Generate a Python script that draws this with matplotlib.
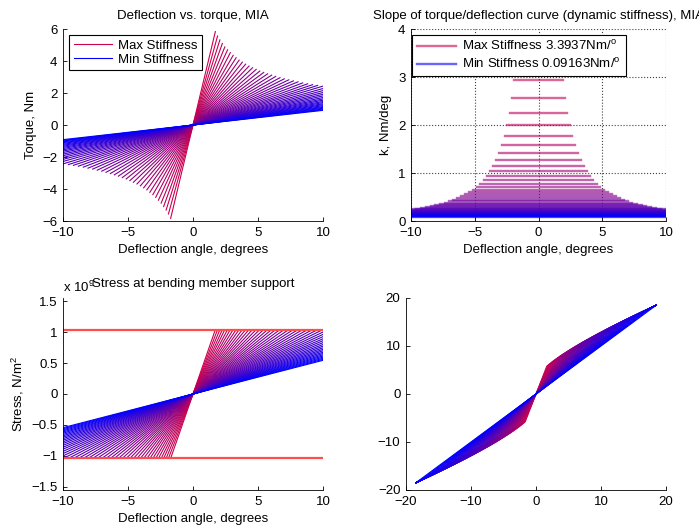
import numpy as np
import matplotlib
matplotlib.use('Agg')
import matplotlib.pyplot as plt

plt.rcParams['font.family'] = 'Liberation Sans'
plt.rcParams['mathtext.default'] = 'regular'
plt.rcParams['font.size'] = 9.5
plt.rcParams['axes.titlesize'] = 9.5

# ------------------
# DATA
# ------------------
# stiffness of each curve, Nm/deg, from max to min
stiffness = [3.394, 2.943, 2.569, 2.256, 1.992, 1.767, 1.575, 1.409, 1.267, 1.142,
             1.034, 0.939, 0.855, 0.781, 0.715, 0.656, 0.604, 0.557, 0.515, 0.477,
             0.442, 0.411, 0.383, 0.357, 0.334, 0.312, 0.292, 0.274, 0.258, 0.243,
             0.228, 0.215, 0.203, 0.192, 0.182, 0.172, 0.163, 0.155, 0.147, 0.140,
             0.133, 0.127, 0.121, 0.115, 0.110, 0.105, 0.100, 0.0957, 0.0916]

# deflection (deg) where each curve stops: stress limit, or the 10 deg edge
end_angle = [1.72, 1.89, 2.07, 2.26, 2.45, 2.66, 2.87, 3.09, 3.32, 3.55,
             3.80, 4.05, 4.31, 4.58, 4.86, 5.14, 5.44, 5.74, 6.05, 6.36,
             6.69, 7.02, 7.37, 7.72, 8.08, 8.44, 8.82, 9.20, 9.59, 9.99,
             10, 10, 10, 10, 10, 10, 10, 10, 10, 10,
             10, 10, 10, 10, 10, 10, 10, 10, 10]

# stress at the end of each curve, x 1e9 N/m^2
end_stress = [1.04, 1.04, 1.04, 1.04, 1.04, 1.04, 1.04, 1.04, 1.04, 1.04,
              1.04, 1.04, 1.04, 1.04, 1.04, 1.04, 1.04, 1.04, 1.04, 1.04,
              1.04, 1.04, 1.04, 1.04, 1.04, 1.04, 1.04, 1.04, 1.04, 1.04,
              1.000, 0.962, 0.926, 0.891, 0.860, 0.829, 0.799, 0.772, 0.746, 0.721,
              0.698, 0.675, 0.654, 0.633, 0.614, 0.595, 0.577, 0.560, 0.544]
stress_limit = 1.04

# lower right plot: knee of each curve and the shared end point
knee_x = [1.66, 1.83, 2.00, 2.19, 2.37, 2.57, 2.78, 2.99, 3.21, 3.44,
          3.68, 3.92, 4.17, 4.43, 4.70, 4.98, 5.27, 5.56, 5.86, 6.16,
          6.48, 6.80, 7.13, 7.47, 7.82, 8.17, 8.54, 8.91, 9.28, 9.67,
          10.07, 10.46, 10.87, 11.30, 11.71, 12.15, 12.59, 13.04, 13.49, 13.97,
          14.43, 14.92, 15.40, 15.90, 16.41, 16.92, 17.44, 17.97, 18.50]
knee_y = [5.80, 6.00, 6.19, 6.40, 6.60, 6.81, 7.02, 7.23, 7.44, 7.66,
          7.89, 8.11, 8.33, 8.56, 8.80, 9.04, 9.28, 9.52, 9.77, 10.01,
          10.27, 10.52, 10.78, 11.04, 11.30, 11.56, 11.84, 12.11, 12.38, 12.66,
          12.94, 13.22, 13.51, 13.80, 14.09, 14.39, 14.69, 14.99, 15.29, 15.60,
          15.91, 16.22, 16.54, 16.86, 17.19, 17.51, 17.84, 18.17, 18.50]
tip = 18.5

# ------------------
# COLOURS: crimson (max) -> blue (min)
# ------------------
red = np.array([0.8, 0.0, 0.3])
blue = np.array([0.0, 0.0, 1.0])
n = len(stiffness)
colors = [tuple(red * (1 - t) + blue * t) for t in np.linspace(0, 1, n)]


def matlab_axes(ax):
    ax.spines['top'].set_visible(False)
    ax.spines['right'].set_visible(False)
    for s in ['left', 'bottom']:
        ax.spines[s].set_linewidth(0.6)
    ax.tick_params(direction='in', length=3, width=0.6, pad=4)


fig = plt.figure(figsize=(6.99, 5.32), dpi=100)
W, H = 699, 532

def px_axes(left, top, right, bottom):
    return fig.add_axes([left / W, 1 - bottom / H, (right - left) / W, (bottom - top) / H])

ax1 = px_axes(63, 29, 323, 221)
ax2 = px_axes(411, 29, 666, 221)
ax3 = px_axes(63, 298, 323, 490)
ax4 = px_axes(406, 298, 666, 490)

# ------------------
# DEFLECTION VS TORQUE
# ------------------
lines1 = []
for k, e, c in zip(stiffness, end_angle, colors):
    ln, = ax1.plot([-e, e], [-k * e, k * e], color=c, lw=0.8)
    lines1.append(ln)
ax1.set_xlim(-10, 10)
ax1.set_ylim(-6, 6)
ax1.set_xticks([-10, -5, 0, 5, 10])
ax1.set_yticks([-6, -4, -2, 0, 2, 4, 6])
ax1.set_xlabel('Deflection angle, degrees')
ax1.set_ylabel('Torque, Nm')
ax1.set_title('Deflection vs. torque, MIA', pad=7)
leg = ax1.legend([lines1[0], lines1[-1]], ['Max Stiffness', 'Min Stiffness'],
                 loc='upper left', bbox_to_anchor=(0.023, 0.97), borderaxespad=0,
                 fancybox=False, edgecolor='black', framealpha=1,
                 handlelength=2.9, handletextpad=0.45, labelspacing=0.15,
                 borderpad=0.35)
leg.get_frame().set_linewidth(0.8)
matlab_axes(ax1)

# ------------------
# DYNAMIC STIFFNESS
# ------------------
lines2 = []
for k, e, c in zip(stiffness, end_angle, colors):
    ln, = ax2.plot([-e, e], [k, k], color=c, lw=1.7, alpha=0.6)
    lines2.append(ln)
ax2.set_xlim(-10, 10)
ax2.set_ylim(0, 4)
ax2.set_xticks([-10, -5, 0, 5, 10])
ax2.set_yticks([0, 1, 2, 3, 4])
ax2.grid(True, linestyle=':', color='0.25', linewidth=0.8)
ax2.set_axisbelow(True)
ax2.set_xlabel('Deflection angle, degrees')
ax2.set_ylabel('k, Nm/deg')
ax2.set_title('Slope of torque/deflection curve (dynamic stiffness), MIA', pad=7)
leg2 = ax2.legend([lines2[0], lines2[-1]],
                  ['Max Stiffness 3.3937Nm/$^o$', 'Min Stiffness 0.09163Nm/$^o$'],
                  loc='upper left', bbox_to_anchor=(0.005, 0.97), borderaxespad=0,
                  fancybox=False, edgecolor='black', framealpha=1,
                  handlelength=3.0, handletextpad=0.45, labelspacing=0.3,
                  borderpad=0.35)
leg2.get_frame().set_linewidth(0.8)
matlab_axes(ax2)

# ------------------
# STRESS
# ------------------
for s, e, c in zip(end_stress, end_angle, colors):
    ax3.plot([-e, e], [-s, s], color=c, lw=0.8)
ax3.plot([-10, 10], [stress_limit, stress_limit], color=(1, 0.3, 0.3), lw=1.6)
ax3.plot([-10, 10], [-stress_limit, -stress_limit], color=(1, 0.3, 0.3), lw=1.6)
ax3.set_xlim(-10, 10)
ax3.set_ylim(-1.55, 1.55)
ax3.set_xticks([-10, -5, 0, 5, 10])
ax3.set_yticks([-1.5, -1, -0.5, 0, 0.5, 1, 1.5])
ax3.set_yticklabels(['\u22121.5', '\u22121', '\u22120.5', '0', '0.5', '1', '1.5'])
ax3.set_xlabel('Deflection angle, degrees')
ax3.set_ylabel('Stress, N/m$^2$')
ax3.set_title('Stress at bending member support', pad=8)
ax3.text(0, 1.015, 'x 10$^9$', transform=ax3.transAxes, ha='left', va='bottom')
matlab_axes(ax3)

# ------------------
# LOWER RIGHT
# ------------------
for kx, ky, c in zip(knee_x, knee_y, colors):
    ax4.plot([-tip, -kx, 0, kx, tip], [-tip, -ky, 0, ky, tip], color=c, lw=0.8)
ax4.set_xlim(-20, 20)
ax4.set_ylim(-20, 20)
ax4.set_xticks([-20, -10, 0, 10, 20])
ax4.set_yticks([-20, -10, 0, 10, 20])
matlab_axes(ax4)

fig.savefig('out.png', dpi=100)
